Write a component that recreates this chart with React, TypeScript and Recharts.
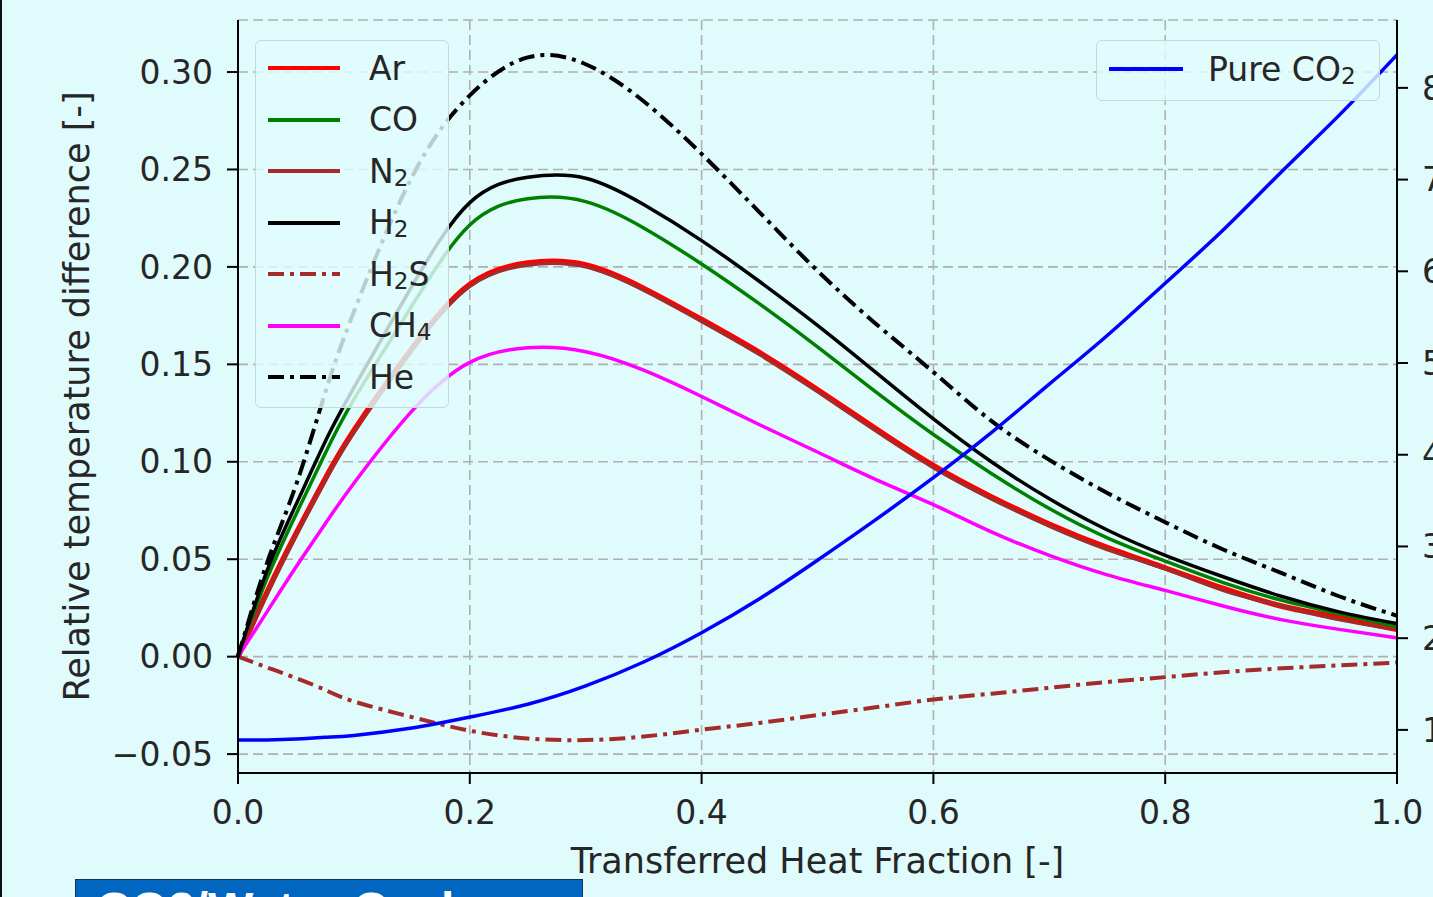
import React from "react";
import { LineChart, Line, XAxis, YAxis, CartesianGrid } from "recharts";

// transferred heat fraction
const xs = [0, 0.025, 0.05, 0.075, 0.1, 0.15, 0.2, 0.25, 0.3, 0.35, 0.4, 0.45, 0.5, 0.55, 0.6, 0.65, 0.7, 0.75, 0.8, 0.85, 0.9, 0.95, 1.0];

// relative temperature difference per impurity (left axis)
const ar = [0, 0.033, 0.063, 0.091, 0.116, 0.158, 0.191, 0.202, 0.201, 0.189, 0.173, 0.156, 0.137, 0.117, 0.098, 0.082, 0.068, 0.056, 0.0455, 0.035, 0.026, 0.02, 0.014];
const co = [0, 0.04, 0.073, 0.104, 0.132, 0.18, 0.2215, 0.235, 0.2335, 0.22, 0.2015, 0.181, 0.159, 0.136, 0.114, 0.094, 0.076, 0.061, 0.049, 0.038, 0.029, 0.022, 0.0155];
const n2 = [0, 0.032, 0.062, 0.09, 0.115, 0.157, 0.19, 0.201, 0.2, 0.188, 0.172, 0.155, 0.136, 0.116, 0.097, 0.081, 0.067, 0.055, 0.045, 0.034, 0.026, 0.019, 0.014];
const h2 = [0, 0.044, 0.078, 0.11, 0.138, 0.19, 0.233, 0.246, 0.2455, 0.232, 0.2135, 0.1925, 0.17, 0.146, 0.122, 0.1, 0.081, 0.065, 0.052, 0.041, 0.031, 0.023, 0.017];
const h2s = [0, -0.0055, -0.011, -0.017, -0.023, -0.031, -0.038, -0.042, -0.0428, -0.041, -0.0375, -0.034, -0.03, -0.026, -0.022, -0.019, -0.016, -0.013, -0.0105, -0.008, -0.006, -0.0045, -0.003];
const ch4 = [0, 0.023, 0.046, 0.068, 0.089, 0.126, 0.151, 0.1585, 0.1565, 0.147, 0.1335, 0.119, 0.105, 0.091, 0.078, 0.064, 0.052, 0.042, 0.034, 0.026, 0.019, 0.014, 0.0097];
const he = [0, 0.048, 0.088, 0.135, 0.177, 0.246, 0.288, 0.3075, 0.304, 0.285, 0.258, 0.228, 0.198, 0.171, 0.146, 0.121, 0.101, 0.084, 0.069, 0.055, 0.043, 0.031, 0.021];

// pure CO2 (right axis)
const pureCo2 = [0.89, 0.89, 0.9, 0.92, 0.94, 1.02, 1.14, 1.28, 1.48, 1.74, 2.06, 2.43, 2.85, 3.29, 3.75, 4.24, 4.77, 5.3, 5.87, 6.45, 7.08, 7.7, 8.36];

const xTicks = [0, 0.2, 0.4, 0.6, 0.8, 1.0];
const leftTicks = [-0.05, 0, 0.05, 0.1, 0.15, 0.2, 0.25, 0.3];
const rightTicks = [1, 2, 3, 4, 5, 6, 7, 8];

const leftSeries = [
  { key: "Ar", values: ar, color: "#ff0000", width: 5.5, dash: undefined },
  { key: "CO", values: co, color: "#008000", width: 3.5, dash: undefined },
  { key: "N2", values: n2, color: "#a52a2a", width: 3.5, dash: undefined },
  { key: "H2", values: h2, color: "#000000", width: 3.5, dash: undefined },
  { key: "H2S", values: h2s, color: "#a52a2a", width: 4, dash: "16 6 4 6" },
  { key: "CH4", values: ch4, color: "#ff00ff", width: 3.5, dash: undefined },
  { key: "He", values: he, color: "#000000", width: 4, dash: "16 6 4 6" },
];
const rightSeries = [{ key: "Pure CO2", values: pureCo2, color: "#0000ff", width: 3.5, dash: undefined }];

const data = xs.map((x, i) => {
  const row: Record<string, number> = { x };
  [...leftSeries, ...rightSeries].forEach((s) => (row[s.key] = s.values[i]));
  return row;
});

const BG = "#e0fbfb";
const FONT = "DejaVu Sans";
const TXT = "#262626";
const tickStyle = { fontSize: 33, fill: TXT, fontFamily: FONT };
const labelStyle = { fontSize: 35, fill: TXT, fontFamily: FONT };

function Chem({ name }: { name: string }) {
  return (
    <>
      {name.split(/(\d+)/).map((p, i) =>
        /\d/.test(p) ? (
          <span key={i} style={{ fontSize: "0.7em", position: "relative", top: "0.3em" }}>{p}</span>
        ) : (
          <span key={i}>{p}</span>
        )
      )}
    </>
  );
}

function LegendBox({ items, left, top, width, height, lineW, textX, rowStart, rowGap }: any) {
  return (
    <div
      style={{
        position: "absolute", left, top, width, height, boxSizing: "border-box",
        background: "rgba(224,251,251,0.82)", border: "1.5px solid #cdd5d5", borderRadius: 6,
      }}
    >
      {items.map((s: any, i: number) => (
        <div key={s.key} style={{ position: "absolute", left: 0, top: rowStart + i * rowGap - 25, height: 50, width: "100%" }}>
          <svg width={lineW + 20} height={50} style={{ position: "absolute", left: 2, top: 0 }}>
            <line x1={10} x2={10 + lineW} y1={25} y2={25} stroke={s.color} strokeWidth={4} strokeDasharray={s.dash} />
          </svg>
          <div style={{ position: "absolute", left: textX, top: 0, height: 50, display: "flex", alignItems: "center", fontFamily: FONT, fontSize: 33, color: TXT, whiteSpace: "nowrap" }}>
            <Chem name={s.key} />
          </div>
        </div>
      ))}
    </div>
  );
}

export default function App() {
  return (
    <div style={{ position: "absolute", left: 0, top: 0, width: 1433, height: 897, overflow: "hidden", background: BG }}>
      <div style={{ position: "absolute", left: 0, top: 0, width: 2, height: 897, background: "#111" }} />
      <LineChart width={1500} height={897} data={data} margin={{ top: 20, right: 43, bottom: 14, left: 148 }}>
        <CartesianGrid yAxisId="left" stroke="#b0b0b0" strokeWidth={1.6} strokeDasharray="10 5" />
        <XAxis
          dataKey="x" type="number" domain={[0, 1]} ticks={xTicks} interval={0} height={110}
          tickFormatter={(v: number) => v.toFixed(1)} tick={tickStyle} tickSize={11} tickMargin={17}
          axisLine={{ stroke: "#000", strokeWidth: 2 }} tickLine={{ stroke: "#000", strokeWidth: 2 }}
          label={{ value: "Transferred Heat Fraction [-]", position: "insideBottom", offset: 10, style: labelStyle }}
        />
        <XAxis xAxisId="top" orientation="top" type="number" dataKey="x" domain={[0, 1]} height={0} tick={false} tickLine={false} axisLine={{ stroke: "#000", strokeWidth: 2 }} />
        <YAxis
          yAxisId="left" type="number" domain={[-0.0597, 0.3267]} ticks={leftTicks} interval={0} width={90}
          tickFormatter={(v: number) => (v < 0 ? "\u2212" + Math.abs(v).toFixed(2) : v.toFixed(2))}
          tick={tickStyle} tickSize={11} tickMargin={14}
          axisLine={{ stroke: "#000", strokeWidth: 2 }} tickLine={{ stroke: "#000", strokeWidth: 2 }}
          label={{ value: "Relative temperature difference [-]", angle: -90, position: "center", dx: -116, style: labelStyle }}
        />
        <YAxis
          yAxisId="right" orientation="right" type="number" domain={[0.53, 8.74]} ticks={rightTicks} interval={0} width={60}
          tick={tickStyle} tickSize={11} tickMargin={14}
          axisLine={{ stroke: "#000", strokeWidth: 2 }} tickLine={{ stroke: "#000", strokeWidth: 2 }}
        />
        {leftSeries.map((s) => (
          <Line key={s.key} yAxisId="left" type="natural" dataKey={s.key} stroke={s.color} strokeWidth={s.width}
            strokeDasharray={s.dash} dot={false} activeDot={false} isAnimationActive={false} />
        ))}
        {rightSeries.map((s) => (
          <Line key={s.key} yAxisId="right" type="natural" dataKey={s.key} stroke={s.color} strokeWidth={s.width}
            dot={false} activeDot={false} isAnimationActive={false} />
        ))}
      </LineChart>
      <LegendBox items={leftSeries} left={255} top={40} width={194} height={368} lineW={72} textX={113} rowStart={27} rowGap={51.5} />
      <LegendBox items={rightSeries} left={1096} top={40} width={284} height={61} lineW={74} textX={111} rowStart={28} rowGap={0} />
      <div
        style={{
          position: "absolute", left: 75, top: 879, width: 508, height: 40, boxSizing: "border-box",
          background: "#0066bf", border: "1px solid #17324d", paddingLeft: 20, paddingTop: 6,
          color: "#fff", fontFamily: "Liberation Sans", fontWeight: "bold", fontSize: 48, lineHeight: 1, whiteSpace: "nowrap",
        }}
      >
        CO2/Water Cycle
      </div>
    </div>
  );
}
